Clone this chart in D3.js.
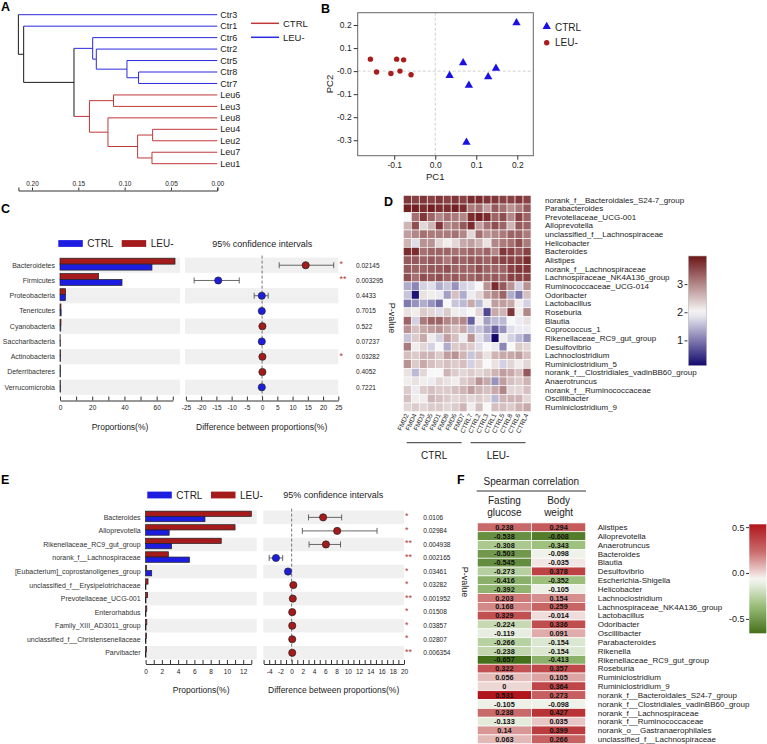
<!DOCTYPE html>
<html><head><meta charset="utf-8">
<script src="https://cdn.jsdelivr.net/npm/d3@7"></script>
<style>body{margin:0;background:#fff} svg text{font-family:"Liberation Sans",Arial,Helvetica,sans-serif}</style>
</head><body>
<svg id="c" width="767" height="744" xmlns="http://www.w3.org/2000/svg"></svg>
<script>
// ================= DATA =================
// Panel A: dendrogram
const dendroLeaves = ["Ctr3","Ctr1","Ctr6","Ctr2","Ctr5","Ctr8","Ctr7","Leu6","Leu3","Leu8","Leu4","Leu2","Leu7","Leu1"];
const dendroTree = {h:0.2147, children:[
  {name:"Ctr3"},
  {h:0.209, children:[
    {name:"Ctr1"},
    {h:0.1547, children:[
      {h:0.1345, children:[
        {name:"Ctr6"},
        {h:0.1306, children:[
          {name:"Ctr2"},
          {h:0.0975, children:[{name:"Ctr5"},{h:0.085, children:[{name:"Ctr8"},{name:"Ctr7"}]}]}
        ]}
      ]},
      {h:0.138, children:[
        {h:0.112, children:[{name:"Leu6"},{name:"Leu3"}]},
        {h:0.118, children:[
          {name:"Leu8"},
          {h:0.086, children:[
            {h:0.0698, children:[{name:"Leu4"},{name:"Leu2"}]},
            {h:0.0705, children:[{name:"Leu7"},{name:"Leu1"}]}
          ]}
        ]}
      ]}
    ]}
  ]}
]};
const denTicks = [0.20,0.15,0.10,0.05,0.00];
const groupNames = ["CTRL","LEU-"];

// Panel B: PCA
const pcaCtrlPC1 = [0.198,0.068,0.148,0.035,0.129,0.082,0.076];
const pcaCtrlPC2 = [0.210,0.036,0.012,-0.019,-0.025,-0.062,-0.309];
const pcaLeuPC1 = [-0.158,-0.143,-0.108,-0.094,-0.086,-0.077,-0.059];
const pcaLeuPC2 = [0.052,-0.004,-0.010,0.052,0.000,0.049,-0.016];
const pcaXTicks = [-0.1,0,0.1,0.2];
const pcaXLabels = ["-0.1","0.0","0.1","0.2"];
const pcaYTicks = [0.2,0.1,0,-0.1,-0.2,-0.3];
const pcaYLabels = ["0.2","0.1","-0.0","-0.1","-0.2","-0.3"];

// Panel C: phylum level
const phylaC = ["Bacteroidetes","Firmicutes","Proteobacteria","Tenericutes","Cyanobacteria","Saccharibacteria","Actinobacteria","Deferribacteres","Verrucomicrobia"];
const ctrlPropC = [57.1,38.5,3.4,0.7,0.5,0.2,0.3,0.3,0.3];
const leuPropC  = [71.4,24.0,3.5,0.6,0.6,0.1,0.4,0.3,0.2];
const diffC   = [14.3,-14.4,-0.1,-0.1,0.1,-0.1,0.1,0.1,-0.1];
const ciLowC  = [5.6,-22.3,-2.6,-0.5,-0.3,-0.2,-0.1,-0.3,-0.3];
const ciHighC = [23.5,-7.5,2.0,0.3,0.5,0.1,0.3,0.5,0.2];
const pValC = ["0.02145","0.003295","0.4433","0.7015","0.522","0.07237","0.03282","0.4052","0.7221"];
const starsC = ["*","**","","","","","*","",""];
const propTicksC = [0,10,20,30,40,50,60,70];
const propLabelsC = [0,20,40,60];
const diffTicksC = [-25,-20,-15,-10,-5,0,5,10,15,20,25];

// Panel D: heatmap
const colsD = ["FMD2","FMD4","FMD3","FMD5","FMD1","FMD8","FMD6","FMD7","CTRL7","CTRL2","CTRL3","CTRL1","CTRL5","CTRL8","CTRL6","CTRL4"];
const rowsD = ["norank_f__Bacteroidales_S24-7_group","Parabacteroides","Prevotellaceae_UCG-001","Alloprevotella","unclassified_f__Lachnospiraceae","Helicobacter","Bacteroides","Alistipes","norank_f__Lachnospiraceae","Lachnospiraceae_NK4A136_group","Ruminococcaceae_UCG-014","Odoribacter","Lactobacillus","Roseburia","Blautia","Coprococcus_1","Rikenellaceae_RC9_gut_group","Desulfovibrio","Lachnoclostridium","Ruminiclostridium_5","norank_f__Clostridiales_vadinBB60_group","Anaerotruncus","norank_f__Ruminococcaceae","Oscillibacter","Ruminiclostridium_9"];
const heatD = [
[3.7,3.6,3.7,3.6,3.7,3.6,3.7,3.6,3.8,3.8,3.7,3.7,3.6,3.6,3.7,3.6],
[3.9,3.9,3.8,3.9,3.8,3.8,3.9,3.8,3.1,3.2,2.8,3.4,3.2,2.9,3.1,3.4],
[2.0,3.2,3.7,3.3,3.0,3.2,3.1,3.0,3.8,3.9,3.8,3.3,3.5,3.0,3.6,3.3],
[2.6,3.5,2.3,2.6,3.7,3.0,3.1,3.4,3.8,2.8,3.2,3.5,3.3,2.6,3.4,3.3],
[2.8,3.0,3.2,3.1,3.1,3.1,3.2,3.0,2.3,3.2,2.9,3.0,3.1,3.3,3.3,3.1],
[2.6,1.8,2.9,2.9,2.3,2.1,2.3,2.7,2.8,2.6,2.2,3.0,3.1,3.2,3.5,3.1],
[3.8,3.8,3.2,3.3,3.3,3.3,3.2,3.2,3.3,3.2,3.3,3.0,3.7,3.6,3.4,3.6],
[3.4,3.4,3.3,3.4,3.3,3.1,3.4,3.3,3.4,3.4,3.3,3.5,3.6,3.6,3.6,3.8],
[3.4,3.3,3.3,3.4,3.4,3.5,3.3,3.3,3.3,3.5,3.3,3.3,3.3,3.6,3.7,3.7],
[3.5,3.2,3.5,3.4,3.5,3.3,3.4,3.3,3.3,3.4,3.3,3.4,3.3,3.6,3.6,3.6],
[1.4,1.1,1.7,1.8,1.4,1.6,1.2,1.7,1.8,2.0,2.9,3.8,3.4,2.9,1.7,2.9],
[1.6,0.2,2.2,2.1,1.9,1.3,2.5,1.4,1.9,2.3,2.8,3.0,3.3,1.4,1.0,2.5],
[1.0,1.2,1.4,1.2,0.9,2.0,1.6,1.5,2.7,1.5,2.1,2.8,2.8,2.7,2.1,1.7],
[2.2,2.1,2.4,2.3,1.8,2.4,2.1,1.9,2.0,2.3,0.6,2.7,2.6,3.7,2.1,3.0],
[3.3,1.7,3.1,3.3,3.3,3.0,2.9,3.0,0.8,2.1,1.3,1.5,1.5,2.0,1.9,2.2],
[2.9,2.5,2.7,2.8,2.9,2.7,2.5,2.7,1.5,1.6,1.3,0.8,1.2,1.8,1.9,1.9],
[1.6,2.4,2.7,2.1,1.7,2.8,2.5,1.9,2.9,1.8,1.5,0.1,2.1,1.7,1.5,1.2],
[3.1,2.1,2.3,1.7,2.0,1.4,2.4,2.5,2.4,1.8,2.0,1.9,1.1,2.0,2.4,2.3],
[2.5,2.4,2.6,2.6,2.4,2.8,2.9,2.6,1.6,2.5,2.2,2.6,2.7,2.7,2.8,2.5],
[2.9,2.4,2.7,2.5,2.4,2.5,2.4,2.5,1.7,2.3,2.0,2.2,1.7,2.3,2.1,2.3],
[2.2,1.5,2.3,2.0,2.0,2.6,2.4,2.3,2.4,2.3,2.4,2.6,2.8,2.7,2.5,3.4],
[2.1,2.2,2.1,1.9,2.3,2.2,2.1,2.4,2.5,2.9,2.7,1.2,2.8,2.5,2.4,2.6],
[2.4,1.9,2.4,2.5,2.4,2.4,2.5,2.6,2.8,2.6,2.5,2.7,3.0,2.3,2.3,2.5],
[2.5,2.1,2.1,2.6,2.5,2.4,2.3,2.4,2.3,2.4,2.3,1.5,2.6,2.6,2.6,2.3],
[2.3,2.4,2.3,2.4,2.4,2.3,2.4,2.6,2.1,2.5,2.0,2.5,2.5,2.4,2.6,2.7]
];
const heatDTicks = [1,2,3];

// Panel E: genus level
const genusE = ["Bacteroides","Alloprevotella","Rikenellaceae_RC9_gut_group","norank_f__Lachnospiraceae","[Eubacterium]_coprostanoligenes_group","unclassified_f__Erysipelotrichaceae","Prevotellaceae_UCG-001","Enterorhabdus","Family_XIII_AD3011_group","unclassified_f__Christensenellaceae","Parvibacter"];
const ctrlPropE = [7.3,2.9,3.2,5.4,0.75,0.05,0.05,0.05,0.05,0.05,0.05];
const leuPropE  = [13.0,11.0,9.3,2.8,0.12,0.3,0.25,0.15,0.15,0.12,0.12];
const diffE   = [5.6,8.1,6.1,-2.8,-0.65,0.3,0.2,0.1,0.1,0.1,0.1];
const ciLowE  = [3.0,1.9,3.1,-4.0,-1.0,0.15,0.05,0.0,0.0,0.0,0.0];
const ciHighE = [8.9,15.2,8.7,-1.6,-0.3,0.45,0.35,0.2,0.2,0.2,0.2];
const pValE = ["0.0106","0.02984","0.004938","0.002165","0.03461","0.03282","0.001952","0.01508","0.03857","0.02807","0.006354"];
const starsE = ["*","*","**","**","*","*","**","*","*","*","**"];
const propTicksE = [0,1,2,3,4,5,6,7,8,9,10,11,12,13];
const propLabelsE = [0,2,4,6,8,10,12];
const diffTicksE = [-5,-4,-3,-2,-1,0,1,2,3,4,5,6,7,8,9,10,11,12,13,14,15,16,17,18,19,20];
const diffLabelsE = [-4,-2,0,2,4,6,8,10,12,14,16,18,20];

// Panel F: Spearman correlation
const genusF = ["Alistipes","Alloprevotella","Anaerotruncus","Bacteroides","Blautia","Desulfovibrio","Escherichia-Shigella","Helicobacter","Lachnoclostridium","Lachnospiraceae_NK4A136_group","Lactobacillus","Odoribacter","Oscillibacter","Parabacteroides","Rikenella","Rikenellaceae_RC9_gut_group","Roseburia","Ruminiclostridium","Ruminiclostridium_9","norank_f__Bacteroidales_S24-7_group","norank_f__Clostridiales_vadinBB60_group","norank_f__Lachnospiraceae","norank_f__Ruminococcaceae","norank_o__Gastranaerophilales","unclassified_f__Lachnospiraceae"];
const fastingF = [0.238,-0.538,-0.308,-0.503,-0.545,-0.273,-0.416,-0.392,0.203,0.168,0.329,-0.224,-0.119,-0.266,-0.238,-0.657,0.322,0.056,0,0.531,-0.105,0.238,-0.133,0.14,0.063];
const bodyF = [0.294,-0.608,-0.343,-0.098,-0.035,0.378,-0.352,-0.105,0.154,0.259,-0.014,0.336,0.091,-0.154,-0.154,-0.413,0.357,0.105,0.364,0.273,-0.098,0.427,0.035,0.399,0.266];
const corrTicksF = [0.5,0,-0.5];
const corrLabelsF = ["0.5","0.0","-0.5"];

// ================= DRAWING =================
const svg = d3.select("#c");
const FONT = "'Liberation Sans', Arial, Helvetica, sans-serif";
const BLUE = "#1d1de2", RED = "#a51a1a", STAR = "#b23a3a";

function txt(g, x, y, s, size, opts = {}) {
  const t = g.append("text").attr("x", x).attr("y", y).text(s)
    .attr("font-size", size).attr("fill", opts.fill || "#111");
  if (opts.anchor) t.attr("text-anchor", opts.anchor);
  if (opts.weight) t.attr("font-weight", opts.weight);
  if (opts.dy) t.attr("dy", opts.dy);
  if (opts.transform) t.attr("transform", opts.transform);
  return t;
}
function styleAxis(g, size) {
  g.attr("font-family", FONT).attr("font-size", size);
  g.selectAll("line").attr("stroke", "#333");
  g.selectAll("path").attr("stroke", "#333");
  g.selectAll("text").attr("fill", "#222");
}

// Panel letters
[["A",1,11],["B",321,13],["C",1,213],["D",384,206],["E",1,484],["F",457,484]].forEach(([l,x,y]) =>
  txt(svg, x, y, l, 12.5, {weight: "bold", fill: "#000"}));

// ---------- Panel A ----------
{
  const g = svg.append("g");
  const DBLUE = "#2a2ae0", DRED = "#c03838", DBLK = "#1a1a1a";
  const yLeaf = d3.scalePoint().domain(dendroLeaves).range([14.7, 163.7]);
  const xDen = d3.scaleLinear().domain([0.2, 0]).range([32, 217.3]);
  const root = d3.hierarchy(dendroTree);
  root.eachAfter(n => {
    if (!n.children) {
      n.py = yLeaf(n.data.name); n.hv = 0;
      n.col = n.data.name.startsWith("Ctr") ? DBLUE : DRED;
    } else {
      n.py = d3.mean(n.children, c => c.py); n.hv = n.data.h;
      const cs = new Set(n.children.map(c => c.col));
      n.col = cs.size === 1 ? n.children[0].col : DBLK;
    }
  });
  root.each(n => {
    if (!n.children) return;
    const ys = n.children.map(c => c.py);
    g.append("line").attr("x1", xDen(n.hv)).attr("x2", xDen(n.hv))
      .attr("y1", d3.min(ys)).attr("y2", d3.max(ys)).attr("stroke", n.col).attr("stroke-width", 1);
    n.children.forEach(c => {
      g.append("line").attr("x1", xDen(n.hv)).attr("x2", xDen(c.hv))
        .attr("y1", c.py).attr("y2", c.py).attr("stroke", c.col).attr("stroke-width", 1);
    });
  });
  root.leaves().forEach(l => txt(g, xDen(0) + 3, l.py, l.data.name, 9, {dy: "0.35em", fill: "#222"}));
  const xAx = xDen.copy().domain([0.2147, 0]).range([xDen(0.2147), xDen(0)]);
  const ax = g.append("g").attr("transform", "translate(0,190.5)")
    .call(d3.axisTop(xAx).tickValues(denTicks).tickFormat(d3.format(".2f")).tickSize(3).tickSizeOuter(3).tickPadding(2));
  styleAxis(ax, 6.5);
  // legend
  [[groupNames[0], DRED, 23.3], [groupNames[1], DBLUE, 37.3]].forEach(([n, c, y]) => {
    g.append("line").attr("x1", 251).attr("x2", 279).attr("y1", y).attr("y2", y).attr("stroke", c).attr("stroke-width", 1.5);
    txt(g, 283, y, n, 9.5, {dy: "0.35em", fill: "#222"});
  });
}

// ---------- Panel B ----------
{
  const g = svg.append("g");
  const xB = d3.scaleLinear().domain([-0.189, 0.239]).range([357.7, 533.3]);
  const yB = d3.scaleLinear().domain([-0.367, 0.2535]).range([155.7, 12.7]);
  g.append("line").attr("x1", xB(0)).attr("x2", xB(0)).attr("y1", yB.range()[1]).attr("y2", yB.range()[0])
    .attr("stroke", "#d0d0d0").attr("stroke-dasharray", "3,2");
  g.append("line").attr("y1", yB(0)).attr("y2", yB(0)).attr("x1", xB.range()[0]).attr("x2", xB.range()[1])
    .attr("stroke", "#d0d0d0").attr("stroke-dasharray", "3,2");
  g.append("rect").attr("x", xB.range()[0]).attr("y", yB.range()[1])
    .attr("width", xB.range()[1] - xB.range()[0]).attr("height", yB.range()[0] - yB.range()[1])
    .attr("fill", "none").attr("stroke", "#666").attr("stroke-width", 1);
  const axB = g.append("g").attr("transform", `translate(0,${yB.range()[0]})`)
    .call(d3.axisBottom(xB).tickValues(pcaXTicks).tickFormat((d, i) => pcaXLabels[i]).tickSize(4).tickPadding(2))
    .call(a => a.select(".domain").remove());
  styleAxis(axB, 8.5);
  const ayB = g.append("g").attr("transform", `translate(${xB.range()[0]},0)`)
    .call(d3.axisLeft(yB).tickValues(pcaYTicks).tickFormat((d, i) => pcaYLabels[i]).tickSize(4).tickPadding(2))
    .call(a => a.select(".domain").remove());
  styleAxis(ayB, 8.5);
  txt(g, xB(0), 180, "PC1", 9.5, {anchor: "middle", fill: "#222"});
  txt(g, 0, 0, "PC2", 9.5, {anchor: "middle", fill: "#222", transform: "translate(333,84) rotate(-90)"});
  const tri = d3.symbol().type(d3.symbolTriangle).size(30);
  pcaCtrlPC1.forEach((v, i) => g.append("path").attr("d", tri)
    .attr("transform", `translate(${xB(v)},${yB(pcaCtrlPC2[i])})`).attr("fill", "#1a10e6"));
  pcaLeuPC1.forEach((v, i) => g.append("circle").attr("cx", xB(v)).attr("cy", yB(pcaLeuPC2[i]))
    .attr("r", 2.7).attr("fill", "#a81c1c"));
  g.append("path").attr("d", tri).attr("transform", "translate(546.7,26.5)").attr("fill", "#1a10e6");
  g.append("circle").attr("cx", 546.7).attr("cy", 42.7).attr("r", 2.7).attr("fill", "#a81c1c");
  txt(g, 555, 27, groupNames[0], 10, {dy: "0.35em", fill: "#222"});
  txt(g, 555, 42.7, groupNames[1], 10, {dy: "0.35em", fill: "#222"});
}

// ---------- Panels C and E ----------
function diffPanel(o) {
  const g = svg.append("g");
  const y = d3.scaleBand().domain(o.cats).range(o.yRange);
  const bw = y.bandwidth();
  const xp = d3.scaleLinear().domain(o.propDomain).range(o.propRange);
  const xd = d3.scaleLinear().domain(o.diffDomain).range(o.diffRange);
  o.cats.forEach((c, i) => {
    if (i % 2 === 0) {
      g.append("rect").attr("x", o.propRange[0]).attr("y", y(c)).attr("width", o.propRange[1] - o.propRange[0])
        .attr("height", bw).attr("fill", "#f0f0f0");
      g.append("rect").attr("x", o.diffRange[0]).attr("y", y(c)).attr("width", o.diffRange[1] - o.diffRange[0])
        .attr("height", bw).attr("fill", "#f0f0f0");
    }
  });
  const barH = bw * 0.39;
  o.cats.forEach((c, i) => {
    const cy = y(c) + bw / 2;
    const top = cy - bw * 0.46;
    g.append("rect").attr("x", xp(0)).attr("y", top).attr("width", xp(o.leu[i]) - xp(0)).attr("height", barH)
      .attr("fill", RED).attr("stroke", "#222").attr("stroke-width", 0.7);
    g.append("rect").attr("x", xp(0)).attr("y", top + barH).attr("width", xp(o.ctrl[i]) - xp(0)).attr("height", barH)
      .attr("fill", BLUE).attr("stroke", "#222").attr("stroke-width", 0.7);
    txt(g, o.propRange[0] - 5, cy, c, 7, {anchor: "end", dy: "0.35em", fill: "#333"});
  });
  // zero line
  g.append("line").attr("x1", xd(0)).attr("x2", xd(0)).attr("y1", o.yRange[0] - 2).attr("y2", o.yRange[1] + 2)
    .attr("stroke", "#555").attr("stroke-dasharray", "3,2").attr("stroke-width", 0.8);
  o.cats.forEach((c, i) => {
    const cy = y(c) + bw / 2;
    const x1 = xd(o.lo[i]), x2 = xd(o.hi[i]);
    g.append("line").attr("x1", x1).attr("x2", x2).attr("y1", cy).attr("y2", cy).attr("stroke", "#444").attr("stroke-width", 0.8);
    [x1, x2].forEach(x => g.append("line").attr("x1", x).attr("x2", x).attr("y1", cy - 3).attr("y2", cy + 3)
      .attr("stroke", "#444").attr("stroke-width", 0.8));
    g.append("circle").attr("cx", xd(o.diff[i])).attr("cy", cy).attr("r", 3.6)
      .attr("fill", o.diff[i] > 0 ? RED : BLUE).attr("stroke", "#222").attr("stroke-width", 0.7);
    if (o.stars[i]) txt(g, o.starX, cy + 2, o.stars[i], 9, {fill: STAR});
    txt(g, o.pX, cy, o.pv[i], 6.5, {dy: "0.35em", fill: "#222"});
  });
  // axes
  const pT = o.propTicks, dT = o.diffTicks;
  const xpAx = xp.copy().domain([pT[0], pT[pT.length - 1]]).range([xp(pT[0]), xp(pT[pT.length - 1])]);
  const xdAx = xd.copy().domain([dT[0], dT[dT.length - 1]]).range([xd(dT[0]), xd(dT[dT.length - 1])]);
  const a1 = g.append("g").attr("transform", `translate(0,${o.axisY})`)
    .call(d3.axisBottom(xpAx).tickValues(pT).tickFormat(d => o.propLabels.includes(d) ? String(d) : "")
      .tickSizeInner(-4).tickSizeOuter(0).tickPadding(5));
  styleAxis(a1, 6.5);
  const a2 = g.append("g").attr("transform", `translate(0,${o.axisY})`)
    .call(d3.axisBottom(xdAx).tickValues(dT).tickFormat(d => o.diffLabels.includes(d) ? String(d) : "")
      .tickSizeInner(-4).tickSizeOuter(0).tickPadding(5));
  styleAxis(a2, 6.5);
  txt(g, (o.propRange[0] + o.propRange[1]) / 2, o.axisY + 29, "Proportions(%)", 8.5, {anchor: "middle", fill: "#222"});
  txt(g, (o.diffRange[0] + o.diffRange[1]) / 2, o.axisY + 29, "Difference between proportions(%)", 8.5, {anchor: "middle", fill: "#222"});
  // legend
  const L = o.legend;
  g.append("rect").attr("x", L.x1).attr("y", L.y - 3.4).attr("width", 24.5).attr("height", 6.8).attr("fill", BLUE);
  txt(g, L.x1 + 29, L.y, groupNames[0], 10, {dy: "0.35em", fill: "#222"});
  g.append("rect").attr("x", L.x2).attr("y", L.y - 3.4).attr("width", 24.5).attr("height", 6.8).attr("fill", RED);
  txt(g, L.x2 + 29, L.y, groupNames[1], 10, {dy: "0.35em", fill: "#222"});
  txt(g, L.ciX, L.y, "95% confidence intervals", 9, {anchor: "middle", dy: "0.35em", fill: "#222"});
  txt(g, 0, 0, "P-value", 9, {anchor: "middle", fill: "#222", transform: `translate(${o.pvLabel[0]},${o.pvLabel[1]}) rotate(90)`});
}

diffPanel({
  cats: phylaC, ctrl: ctrlPropC, leu: leuPropC, diff: diffC, lo: ciLowC, hi: ciHighC, pv: pValC, stars: starsC,
  yRange: [257.6, 394.85], propDomain: [0, 74.5], propRange: [60, 180], diffDomain: [-25.3, 25], diffRange: [185, 338.3],
  propTicks: propTicksC, propLabels: propLabelsC, diffTicks: diffTicksC, diffLabels: diffTicksC,
  axisY: 400.5, starX: 339.5, pX: 356,
  legend: {x1: 58.3, x2: 121.7, y: 243.5, ciX: 262.3}, pvLabel: [389, 318]
});

diffPanel({
  cats: genusE, ctrl: ctrlPropE, leu: leuPropE, diff: diffE, lo: ciLowE, hi: ciHighE, pv: pValE, stars: starsE,
  yRange: [510.6, 659.55], propDomain: [0, 13.66], propRange: [145.6, 256.7], diffDomain: [-5.05, 20], diffRange: [263.3, 404],
  propTicks: propTicksE, propLabels: propLabelsE, diffTicks: diffTicksE, diffLabels: diffLabelsE,
  axisY: 664, starX: 405, pX: 423.3,
  legend: {x1: 147.3, x2: 211, y: 495, ciX: 333.3}, pvLabel: [462, 582]
});

// ---------- Panel D ----------
{
  const g = svg.append("g");
  const xD = d3.scaleBand().domain(colsD).range([403.3, 531]);
  const yD = d3.scaleBand().domain(rowsD).range([195.4, 411.6]);
  const colD = d3.scaleLinear().domain([0.1, 2, 4.0]).range(["#12086c", "#f8f8f8", "#6c1517"]).interpolate(d3.interpolateRgb);
  rowsD.forEach((r, i) => {
    colsD.forEach((c, j) => {
      g.append("rect").attr("x", xD(c)).attr("y", yD(r)).attr("width", xD.bandwidth()).attr("height", yD.bandwidth())
        .attr("fill", colD(heatD[i][j])).attr("stroke", "#fff").attr("stroke-width", 0.6);
    });
    txt(g, 545, yD(r) + yD.bandwidth() / 2, r, 8, {dy: "0.35em", fill: "#222"});
  });
  colsD.forEach(c => {
    const cx = xD(c) + xD.bandwidth() / 2 + 1.5;
    txt(g, 0, 0, c, 6.5, {anchor: "end", fill: "#222", transform: `translate(${cx},415) rotate(-65)`});
  });
  const bw = xD.bandwidth();
  [[colsD[0], colsD[7], groupNames[0]], [colsD[8], colsD[15], groupNames[1]]].forEach(([a, b, n]) => {
    const x1 = xD(a) + 3.4, x2 = xD(b) + bw - 5.5;
    g.append("line").attr("x1", x1).attr("x2", x2).attr("y1", 442.7).attr("y2", 442.7).attr("stroke", "#333").attr("stroke-width", 1);
    txt(g, (x1 + x2) / 2, 459, n, 10, {anchor: "middle", fill: "#222"});
  });
  // color bar
  const yBar = d3.scaleLinear().domain([0.1, 4.0]).range([365.7, 256]);
  const grad = svg.append("defs").append("linearGradient").attr("id", "gD").attr("x1", 0).attr("x2", 0).attr("y1", 1).attr("y2", 0);
  d3.range(0, 1.0001, 0.05).forEach(t => {
    const v = 0.1 + t * 3.9;
    grad.append("stop").attr("offset", t).attr("stop-color", colD(v));
  });
  g.append("rect").attr("x", 688.3).attr("y", yBar(4.0)).attr("width", 18.4).attr("height", yBar(0.1) - yBar(4.0))
    .attr("fill", "url(#gD)").attr("stroke", "#bbb").attr("stroke-width", 0.6);
  const ab = g.append("g").attr("transform", "translate(687.5,0)")
    .call(d3.axisLeft(yBar).tickValues(heatDTicks).tickFormat(d3.format("d")).tickSize(3).tickPadding(1.5))
    .call(a => a.select(".domain").remove());
  styleAxis(ab, 11);
}

// ---------- Panel F ----------
{
  const g = svg.append("g");
  const xF = d3.scaleBand().domain(["Fasting glucose", "Body weight"]).range([477.3, 585.7]);
  const yF = d3.scaleBand().domain(genusF).range([522.9, 743.7]);
  const colF = d3.scaleLinear().domain([-0.657, -0.35, -0.07, 0.23, 0.531])
    .range(["#45701b", "#9dc07d", "#f7f7f5", "#ca6c6c", "#b0161b"]).interpolate(d3.interpolateRgb);
  txt(g, 531.3, 485, "Spearman correlation", 10, {anchor: "middle", fill: "#222"});
  g.append("line").attr("x1", 476.7).attr("x2", 586).attr("y1", 491).attr("y2", 491).attr("stroke", "#333").attr("stroke-width", 1);
  const cxs = xF.domain().map(d => xF(d) + xF.bandwidth() / 2);
  txt(g, cxs[0], 504, "Fasting", 10, {anchor: "middle", fill: "#222"});
  txt(g, cxs[0], 515.5, "glucose", 10, {anchor: "middle", fill: "#222"});
  txt(g, cxs[1], 503.5, "Body", 10, {anchor: "middle", fill: "#222"});
  txt(g, cxs[1], 515.5, "weight", 10, {anchor: "middle", fill: "#222"});
  genusF.forEach((r, i) => {
    [fastingF[i], bodyF[i]].forEach((v, j) => {
      const col = xF.domain()[j];
      g.append("rect").attr("x", xF(col)).attr("y", yF(r)).attr("width", xF.bandwidth()).attr("height", yF.bandwidth())
        .attr("fill", colF(v)).attr("stroke", "#fff").attr("stroke-width", 0.7);
      txt(g, cxs[j], yF(r) + yF.bandwidth() / 2, String(v), 7.3, {anchor: "middle", dy: "0.36em", weight: "bold", fill: "#111"});
    });
    txt(g, 597.7, yF(r) + yF.bandwidth() / 2, r, 8, {dy: "0.35em", fill: "#222"});
  });
  const yBarF = d3.scaleLinear().domain([-0.657, 0.531]).range([633.3, 524.3]);
  const gradF = svg.append("defs").append("linearGradient").attr("id", "gF").attr("x1", 0).attr("x2", 0).attr("y1", 1).attr("y2", 0);
  d3.range(0, 1.0001, 0.05).forEach(t => {
    const v = -0.657 + t * (0.531 + 0.657);
    gradF.append("stop").attr("offset", t).attr("stop-color", colF(v));
  });
  g.append("rect").attr("x", 749.3).attr("y", yBarF(0.531)).attr("width", 17).attr("height", yBarF(-0.657) - yBarF(0.531))
    .attr("fill", "url(#gF)");
  const af = g.append("g").attr("transform", "translate(749,0)")
    .call(d3.axisLeft(yBarF).tickValues(corrTicksF).tickFormat((d, i) => corrLabelsF[i]).tickSize(3).tickPadding(1.5))
    .call(a => a.select(".domain").remove());
  styleAxis(af, 9);
}
</script>
</body></html>
